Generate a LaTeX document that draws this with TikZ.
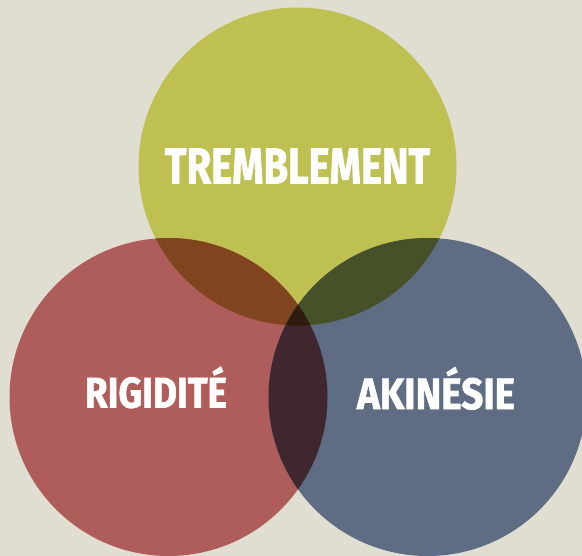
\documentclass[tikz,border=0pt]{standalone}
\usepackage{fontspec}
\setmainfont{Fira Sans}[BoldFeatures={FakeBold=1.6}]
\usepackage{graphicx}
\definecolor{bgbeige}{RGB}{224,222,208}
\definecolor{olivec}{RGB}{191,192,82}
\definecolor{redc}{RGB}{175,93,91}
\definecolor{bluec}{RGB}{94,108,132}
\definecolor{olivered}{RGB}{128,69,30}
\definecolor{oliveblue}{RGB}{70,81,42}
\definecolor{redblue}{RGB}{64,38,47}
\definecolor{allthree}{RGB}{46,29,15}
\tikzset{
  label/.style={text=white, inner sep=0pt, font=\bfseries}
}
\begin{document}
\begin{tikzpicture}[x=1pt,y=-1pt]
  \useasboundingbox (0,0) rectangle (582,556);
  \clip (0,0) rectangle (582,556);
  \fill[bgbeige] (0,0) rectangle (582,556);
  % circle centres
  \coordinate (ct) at (297.5,166.5);
  \coordinate (cl) at (168.5,397);
  \coordinate (cr) at (427.5,397);
  \def\rad{159}
  % base discs
  \fill[olivec] (ct) circle[radius=\rad];
  \fill[redc] (cl) circle[radius=\rad];
  \fill[bluec] (cr) circle[radius=\rad];
  % pairwise overlaps
  \begin{scope}
    \clip (ct) circle[radius=\rad];
    \fill[olivered] (cl) circle[radius=\rad];
    \fill[oliveblue] (cr) circle[radius=\rad];
  \end{scope}
  \begin{scope}
    \clip (cl) circle[radius=\rad];
    \fill[redblue] (cr) circle[radius=\rad];
    \clip (cr) circle[radius=\rad];
    \fill[allthree] (ct) circle[radius=\rad];
  \end{scope}
  % labels
  \node[label] (tremb) at (297.5,166) {\resizebox{265pt}{35pt}{TREMBLEMENT}};
  \node[label, anchor=south] (rigid) at (156,408.5) {\resizebox{142pt}{41pt}{RIGIDITÉ}};
  \node[label, anchor=south] (akin) at (436,410) {\resizebox{158pt}{42pt}{AKINÉSIE}};
\end{tikzpicture}
\end{document}
